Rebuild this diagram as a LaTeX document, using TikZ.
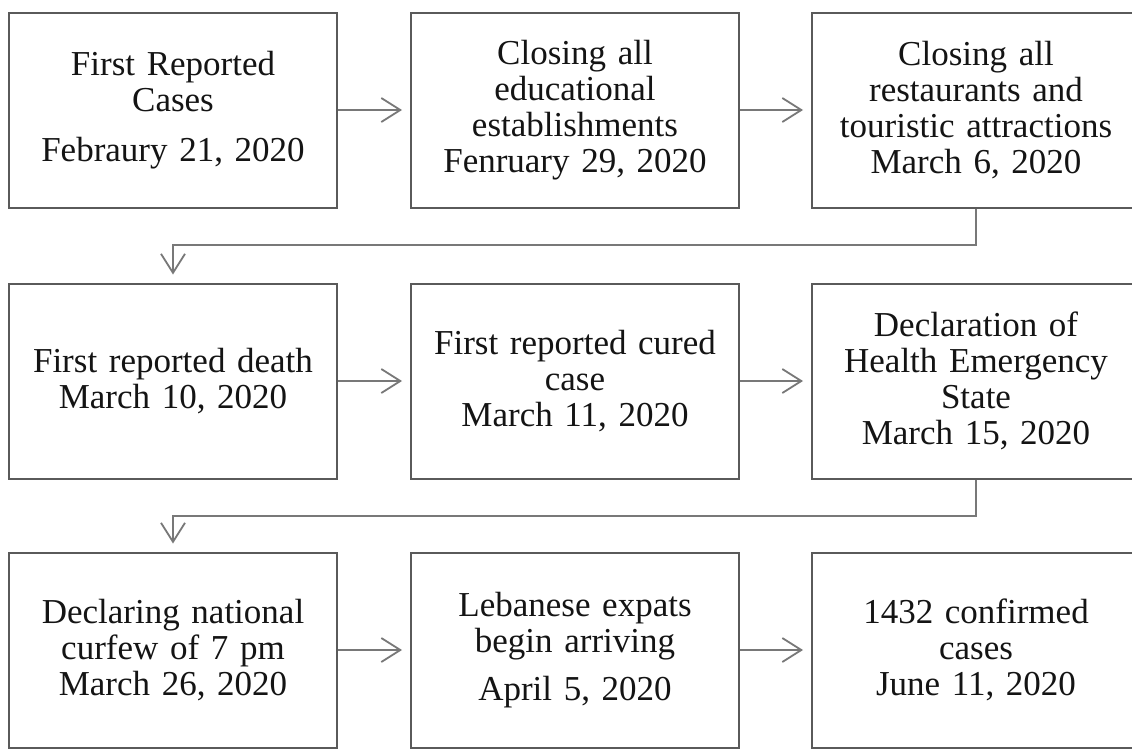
\documentclass[tikz,border=0pt]{standalone}
\usepackage{fontspec}
\setmainfont[WordSpace={0.8,1,1}]{Liberation Serif}
\usetikzlibrary{arrows.meta}
\definecolor{boxline}{RGB}{90,90,90}
\definecolor{arrline}{RGB}{120,120,120}
\definecolor{txt}{RGB}{20,20,20}
\begin{document}
\begin{tikzpicture}[x=1pt,y=-1pt,
  event/.style={draw=boxline, line width=2pt, rectangle, minimum width=328pt,
    minimum height=195pt, inner sep=0pt, text width=320pt, align=center,
    text=txt, font=\fontsize{35}{36}\selectfont},
  arr/.style={draw=arrline, line width=1.8pt,
    -{Straight Barb[length=19pt,width=24pt,line width=1.8pt]}, shorten >=8pt}]
\useasboundingbox (0,0) rectangle (1132,748);
\fill[white] (0,0) rectangle (1132,748);
% row 1
\node[event] (b1) at (173,110) {First Reported\\Cases\\[14pt]Febraury 21, 2020};
\node[event] (b2) at (575,110) {Closing all\\educational\\establishments\\Fenruary 29, 2020};
\node[event] (b3) at (976,110) {Closing all\\restaurants and\\touristic attractions\\March 6, 2020};
% row 2
\node[event] (b4) at (173,381) {First reported death\\March 10, 2020};
\node[event] (b5) at (575,381) {First reported cured\\case\\March 11, 2020};
\node[event] (b6) at (976,381) {Declaration of\\Health Emergency\\State\\March 15, 2020};
% row 3
\node[event] (b7) at (173,650) {Declaring national\\curfew of 7 pm\\March 26, 2020};
\node[event] (b8) at (575,650) {Lebanese expats\\begin arriving\\[12pt]April 5, 2020};
\node[event] (b9) at (976,650) {1432 confirmed\\cases\\June 11, 2020};
% turn points
\coordinate (k1) at (173,245);
\coordinate (k2) at (173,516);
% connectors
\draw[arr] (b1) -- (b2);
\draw[arr] (b2) -- (b3);
\draw[arr] (b3.south) |- (k1) -- (b4.north);
\draw[arr] (b4) -- (b5);
\draw[arr] (b5) -- (b6);
\draw[arr] (b6.south) |- (k2) -- (b7.north);
\draw[arr] (b7) -- (b8);
\draw[arr] (b8) -- (b9);
\end{tikzpicture}
\end{document}
